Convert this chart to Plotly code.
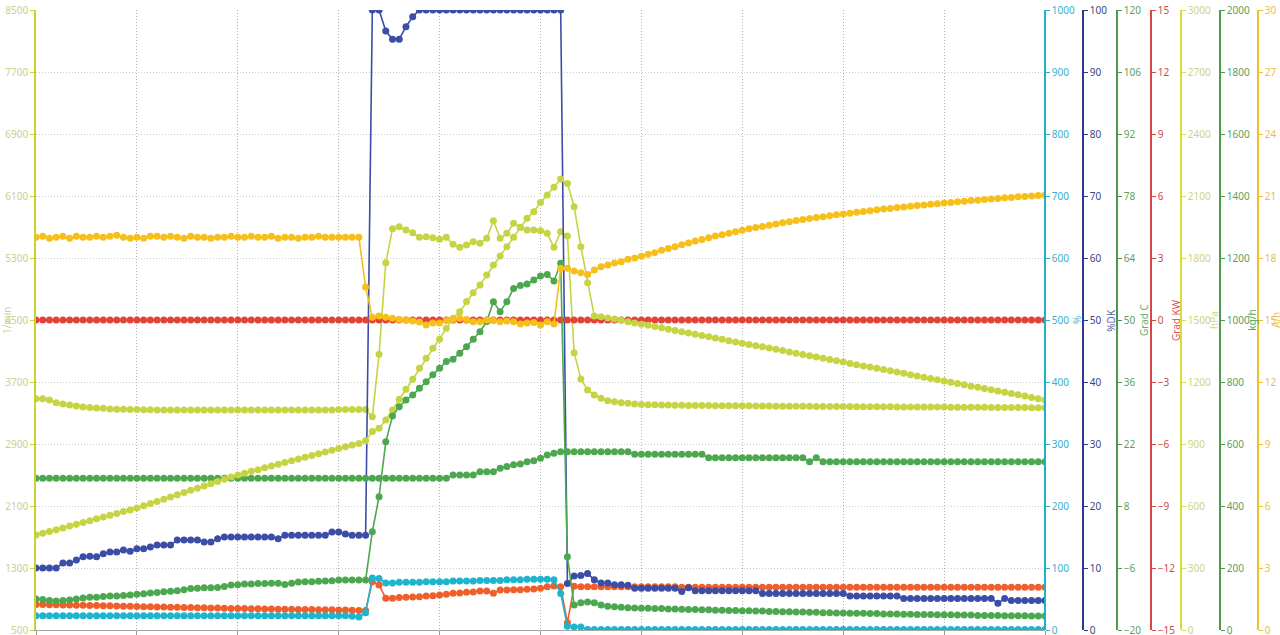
import plotly.graph_objects as go

# sample index (time axis, 151 samples)
sample = list(range(151))

rpm_1min = [3484, 3484, 3468, 3432, 3416, 3403, 3390, 3377, 3371, 3364,
            3360, 3352, 3350, 3348, 3345, 3345, 3342, 3342, 3340, 3340,
            3339, 3339, 3339, 3339, 3339, 3339, 3339, 3339, 3339, 3339,
            3339, 3339, 3339, 3339, 3339, 3339, 3339, 3339, 3339, 3339,
            3339, 3339, 3339, 3339, 3339, 3345, 3345, 3345, 3345, 3345,
            3252, 4057, 5239, 5678, 5704, 5662, 5626, 5567, 5575, 5562,
            5541, 5567, 5477, 5438, 5468, 5510, 5490, 5554, 5781, 5554,
            5618, 5748, 5696, 5662, 5662, 5652, 5618, 5438, 5639, 5584,
            4078, 3739, 3597, 3532, 3490, 3459, 3446, 3433, 3425, 3416,
            3410, 3408, 3405, 3403, 3403, 3400, 3400, 3398, 3398, 3396,
            3396, 3395, 3395, 3393, 3393, 3392, 3392, 3390, 3390, 3390,
            3388, 3388, 3387, 3387, 3386, 3386, 3385, 3385, 3384, 3384,
            3383, 3383, 3382, 3382, 3381, 3381, 3380, 3380, 3379, 3379,
            3378, 3378, 3377, 3377, 3376, 3376, 3375, 3375, 3374, 3374,
            3373, 3373, 3372, 3372, 3371, 3371, 3370, 3370, 3369, 3369, 3368]

orange_1min = [829, 828, 826, 825, 823, 822, 820, 819, 817, 815,
               814, 812, 810, 808, 806, 803, 801, 800, 798, 797,
               795, 793, 791, 790, 788, 787, 785, 783, 781, 779,
               777, 776, 774, 773, 772, 770, 769, 768, 767, 765,
               764, 763, 762, 761, 760, 758, 757, 755, 753, 752,
               1123, 1081, 909, 909, 918, 922, 926, 930, 939, 942,
               952, 960, 974, 978, 986, 990, 1003, 1003, 974, 1016,
               1016, 1020, 1020, 1025, 1030, 1038, 1059, 1068, 1059, 594,
               1065, 1059, 1059, 1059, 1059, 1059, 1059, 1059, 1059, 1059,
               1059, 1059, 1059, 1059, 1059, 1059, 1051, 1051, 1051, 1051,
               1051, 1051, 1051, 1051, 1051, 1051, 1051, 1051, 1051, 1051,
               1051, 1051, 1051, 1051, 1051, 1051, 1051, 1051, 1051, 1051,
               1051, 1051, 1051, 1051, 1051, 1051, 1051, 1051, 1051, 1051,
               1051, 1051, 1051, 1051, 1051, 1051, 1051, 1051, 1051, 1051,
               1051, 1051, 1051, 1051, 1051, 1051, 1051, 1051, 1051, 1051, 1051]

pct = [23, 23, 23, 23, 23, 23, 23, 23, 23, 23,
       23, 23, 23, 23, 23, 23, 23, 23, 23, 23,
       23, 23, 23, 23, 23, 23, 23, 23, 23, 23,
       23, 23, 23, 23, 23, 23, 23, 23, 23, 23,
       23, 23, 23, 23, 23, 23, 23, 22, 21, 28,
       84, 83, 76, 76, 77, 77, 77, 77, 78, 78,
       78, 78, 79, 79, 79, 79, 80, 80, 80, 80,
       81, 81, 81, 82, 82, 82, 82, 81, 59, 6,
       5, 5, 1, 1, 1, 1, 1, 1, 1, 1,
       1, 1, 1, 1, 1, 1, 1, 1, 1, 1,
       1, 1, 1, 1, 1, 1, 1, 1, 1, 1,
       1, 1, 1, 1, 1, 1, 1, 1, 1, 1,
       1, 1, 1, 1, 1, 1, 1, 1, 1, 1,
       1, 1, 1, 1, 1, 1, 1, 1, 1, 1,
       1, 1, 1, 1, 1, 1, 1, 1, 1, 1, 1]

pct_dk = [10.0, 10.0, 10.0, 10.0, 10.8, 10.8, 11.3, 11.8, 11.9, 11.8,
          12.3, 12.6, 12.6, 12.9, 12.7, 13.1, 13.1, 13.4, 13.7, 13.7,
          13.7, 14.5, 14.5, 14.5, 14.5, 14.2, 14.2, 14.7, 15.0, 15.0,
          15.0, 15.0, 15.0, 15.0, 15.0, 15.0, 14.7, 15.3, 15.3, 15.3,
          15.3, 15.3, 15.3, 15.3, 15.8, 15.8, 15.5, 15.3, 15.3, 15.3,
          100, 100, 96.6, 95.3, 95.3, 97.3, 98.9, 100, 100, 100,
          100, 100, 100, 100, 100, 100, 100, 100, 100, 100,
          100, 100, 100, 100, 100, 100, 100, 100, 100, 7.5,
          8.7, 8.8, 9.1, 8.1, 7.6, 7.6, 7.3, 7.3, 7.2, 6.75,
          6.75, 6.75, 6.75, 6.75, 6.75, 6.75, 6.2, 6.8, 6.35, 6.35,
          6.35, 6.35, 6.35, 6.35, 6.35, 6.35, 6.35, 6.35, 5.9, 5.9,
          5.9, 5.9, 5.9, 5.9, 5.9, 5.9, 5.9, 5.9, 5.9, 5.9,
          5.9, 5.5, 5.5, 5.5, 5.5, 5.5, 5.5, 5.5, 5.5, 5.1,
          5.1, 5.1, 5.1, 5.1, 5.1, 5.1, 5.1, 5.1, 5.1, 5.1,
          5.1, 5.1, 5.1, 4.3, 5.1, 4.75, 4.75, 4.75, 4.75, 4.75, 4.75]

grad_c = [14.25, 14.25, 14.25, 14.25, 14.25, 14.25, 14.25, 14.25, 14.25, 14.25,
          14.25, 14.25, 14.25, 14.25, 14.25, 14.25, 14.25, 14.25, 14.25, 14.25,
          14.25, 14.25, 14.25, 14.25, 14.25, 14.25, 14.25, 14.25, 14.25, 14.25,
          14.25, 14.25, 14.25, 14.25, 14.25, 14.25, 14.25, 14.25, 14.25, 14.25,
          14.25, 14.25, 14.25, 14.25, 14.25, 14.25, 14.25, 14.25, 14.25, 14.25,
          14.25, 14.25, 14.25, 14.25, 14.25, 14.25, 14.25, 14.25, 14.25, 14.25,
          14.25, 14.25, 15.0, 15.0, 15.0, 15.0, 15.75, 15.75, 15.75, 16.5,
          16.9, 17.3, 17.5, 18.0, 18.2, 18.8, 19.5, 19.9, 20.26, 20.26,
          20.26, 20.26, 20.26, 20.26, 20.26, 20.26, 20.26, 20.26, 20.26, 19.67,
          19.67, 19.67, 19.67, 19.67, 19.67, 19.67, 19.67, 19.67, 19.67, 19.67,
          18.9, 18.9, 18.9, 18.9, 18.9, 18.9, 18.9, 18.9, 18.9, 18.9,
          18.9, 18.9, 18.9, 18.9, 18.9, 18.0, 18.9, 18.0, 18.0, 18.0,
          18.0, 18.0, 18.0, 18.0, 18.0, 18.0, 18.0, 18.0, 18.0, 18.0,
          18.0, 18.0, 18.0, 18.0, 18.0, 18.0, 18.0, 18.0, 18.0, 18.0,
          18.0, 18.0, 18.0, 18.0, 18.0, 18.0, 18.0, 18.0, 18.0, 18.0, 18.0]

grad_kw = [0] * 151

hpa = [460, 468, 477, 485, 494, 503, 512, 520, 529, 538,
       547, 555, 564, 573, 581, 590, 601, 612, 622, 633,
       644, 654, 665, 676, 686, 697, 708, 718, 729, 740,
       750, 759, 768, 776, 785, 793, 802, 810, 819, 827,
       836, 844, 853, 861, 870, 878, 887, 895, 903, 916,
       960, 976, 1016, 1065, 1116, 1165, 1213, 1266, 1315, 1363,
       1407, 1460, 1508, 1540, 1589, 1632, 1669, 1718, 1766, 1810,
       1855, 1900, 1947, 1992, 2024, 2069, 2105, 2142, 2182, 2161,
       2048, 1855, 1680, 1519, 1516, 1510, 1505, 1499, 1492, 1486,
       1480, 1474, 1468, 1462, 1455, 1449, 1443, 1437, 1431, 1425,
       1419, 1413, 1407, 1400, 1394, 1388, 1382, 1376, 1370, 1364,
       1358, 1352, 1345, 1339, 1333, 1327, 1321, 1315, 1309, 1303,
       1297, 1290, 1284, 1278, 1272, 1266, 1260, 1254, 1248, 1242,
       1235, 1229, 1223, 1217, 1211, 1205, 1199, 1193, 1187, 1180,
       1174, 1168, 1162, 1156, 1150, 1144, 1138, 1132, 1125, 1119, 1113]

kg_h = [100, 98, 95, 93.5, 95, 97, 100, 103, 106, 106,
        108, 110, 110, 111, 113, 115, 117, 119, 121, 123,
        125, 127, 130, 134, 135, 136, 136, 137, 140, 145,
        146, 148, 148, 150, 150, 151, 151, 147, 151, 155,
        156, 156, 157, 158, 159, 161, 161, 161, 161, 161,
        317, 430, 607, 690, 720, 742, 758, 780, 801, 823,
        844, 866, 873, 893, 914, 938, 962, 995, 1059, 1027,
        1059, 1102, 1111, 1116, 1129, 1142, 1147, 1126, 1183, 236,
        81, 88, 90, 88, 81, 77, 75, 73, 72, 71,
        70, 70, 69, 69, 68, 68, 67, 66, 66, 65,
        65, 64, 64, 63, 63, 62, 62, 61, 61, 60,
        60, 59, 59, 58, 58, 57, 57, 56, 56, 55,
        55, 54, 54, 54, 53, 53, 52, 52, 52, 51,
        51, 50, 50, 50, 49, 49, 49, 48, 48, 48,
        47, 47, 47, 47, 46, 46, 46, 46, 45, 45, 45]

gold = [19.0, 19.05, 18.95, 19.0, 19.05, 18.95, 19.05, 19.0, 19.0, 19.05,
        19.0, 19.05, 19.1, 19.0, 18.95, 19.0, 18.95, 19.05, 19.05, 19.0,
        19.05, 19.0, 18.95, 19.05, 19.0, 19.0, 18.95, 19.0, 19.0, 19.05,
        19.0, 19.0, 19.05, 19.0, 19.0, 19.05, 18.95, 19.0, 19.0, 18.95,
        19.0, 19.0, 19.05, 19.0, 19.0, 19.0, 19.0, 19.0, 19.0, 16.6,
        15.13, 15.19, 15.13, 15.08, 15.03, 15.0, 14.95, 14.9, 14.76, 14.85,
        14.85, 14.97, 15.03, 15.08, 15.03, 14.92, 14.92, 15.0, 14.97, 14.92,
        14.95, 14.92, 14.81, 14.85, 14.88, 14.76, 14.92, 14.81, 17.5, 17.5,
        17.37, 17.29, 17.2, 17.42, 17.58, 17.66, 17.76, 17.82, 17.94, 18.0,
        18.08, 18.18, 18.26, 18.37, 18.46, 18.55, 18.64, 18.73, 18.82, 18.9,
        18.98, 19.06, 19.13, 19.2, 19.27, 19.34, 19.41, 19.47, 19.53, 19.59,
        19.65, 19.7, 19.76, 19.81, 19.86, 19.91, 19.96, 20.0, 20.05, 20.09,
        20.13, 20.17, 20.21, 20.25, 20.29, 20.33, 20.37, 20.4, 20.44, 20.47,
        20.5, 20.54, 20.57, 20.6, 20.63, 20.66, 20.69, 20.72, 20.75, 20.78,
        20.8, 20.83, 20.86, 20.88, 20.91, 20.93, 20.96, 20.98, 21.0, 21.02, 21.05]

W, H = 1280, 635
ML, MR, MT, MB = 36, 0, 10, 5
PW = W - ML - MR

def px(xp):
    return (xp - ML) / PW

YG = '#C6D444'
GOLD = '#F6BF1A'
GREEN = '#4CA84F'
BLUE = '#3B4DA6'
CYAN = '#1DB4CE'
RED = '#E04338'
ORANGE = '#EF5F2C'

fig = go.Figure()

def add(y, axis, color):
    fig.add_trace(go.Scatter(
        x=sample, y=y, yaxis=axis, mode='lines+markers',
        line=dict(color=color, width=1.6),
        marker=dict(color=color, size=7, line=dict(width=0)),
        showlegend=False, hoverinfo='skip'))

add(rpm_1min, 'y', YG)
add(orange_1min, 'y', ORANGE)
add(pct, 'y2', CYAN)
add(pct_dk, 'y3', BLUE)
add(grad_c, 'y4', GREEN)
add(grad_kw, 'y5', RED)
add(hpa, 'y6', YG)
add(kg_h, 'y7', GREEN)
add(gold, 'y8', GOLD)

font_fam = 'Noto Sans'

def yax(rng, dtick, lc, tc, pos=None, **kw):
    d = dict(range=rng, dtick=dtick, tick0=rng[0], showgrid=False, zeroline=False,
             showline=True, linecolor=lc, linewidth=1.5, ticks='outside', ticklen=4,
             tickcolor=lc, tickwidth=1, tickfont=dict(size=10, color=tc, family=font_fam),
             ticklabeloverflow='allow', fixedrange=True)
    if pos is not None:
        d.update(overlaying='y', side='right', anchor='free', position=pos)
    d.update(kw)
    return d

x_right = 1045
fig.update_layout(
    width=W, height=H,
    margin=dict(l=ML, r=MR, t=MT, b=MB, autoexpand=False),
    paper_bgcolor='white', plot_bgcolor='white',
    xaxis=dict(range=[0, 150], domain=[0, px(x_right)], dtick=15, tick0=0,
               showgrid=True, gridcolor='#B0B0B0', griddash='1px,2px', gridwidth=1,
               showticklabels=False, ticks='outside', ticklen=4, tickcolor='#9A9A9A',
               showline=True, linecolor='#A6A6A6', linewidth=1, zeroline=False,
               fixedrange=True),
    yaxis=yax([500, 8500], 800, '#C8D232', '#C9D18C', showgrid=True,
              gridcolor='#CFCFCF', griddash='1px,2px', gridwidth=1),
    yaxis2=yax([0, 1000], 100, '#22B0C4', '#3AAFCB', px(1045)),
    yaxis3=yax([0, 100], 10, '#2A3A8E', '#3D4680', px(1083)),
    yaxis4=yax([-20, 120], 14, '#4C9A4C', '#5E9E5E', px(1117)),
    yaxis5=yax([-15, 15], 3, '#D84545', '#CC4A4A', px(1151)),
    yaxis6=yax([0, 3000], 300, '#D9DD3C', '#CDD57A', px(1181)),
    yaxis7=yax([0, 2000], 200, '#4C9A4C', '#5E9E5E', px(1220)),
    yaxis8=yax([0, 30], 3, '#EFC030', '#E6BE4E', px(1258)),
)

titles = [('1/min', 7, '#C9D18C'), ('%', 1077, '#4DB8D4'), ('%DK', 1110.7, '#5A64A8'),
          ('Grad C', 1144, '#6AAE6A'), ('Grad KW', 1176, '#D85858'), ('hPa', 1214, '#D0D880'),
          ('kg/h', 1251.7, '#5EA35E'), ('A/h', 1276, '#EEC050')]
for t, xp, c in titles:
    fig.add_annotation(text=t, xref='paper', yref='paper', x=px(xp), y=0.5,
                       xanchor='center', yanchor='middle', textangle=-90, showarrow=False,
                       font=dict(size=10, color=c, family=font_fam))

fig.write_html('out.html', config={'displayModeBar': False},
               post_script="document.body.style.margin='0';document.body.style.overflow='hidden';")
